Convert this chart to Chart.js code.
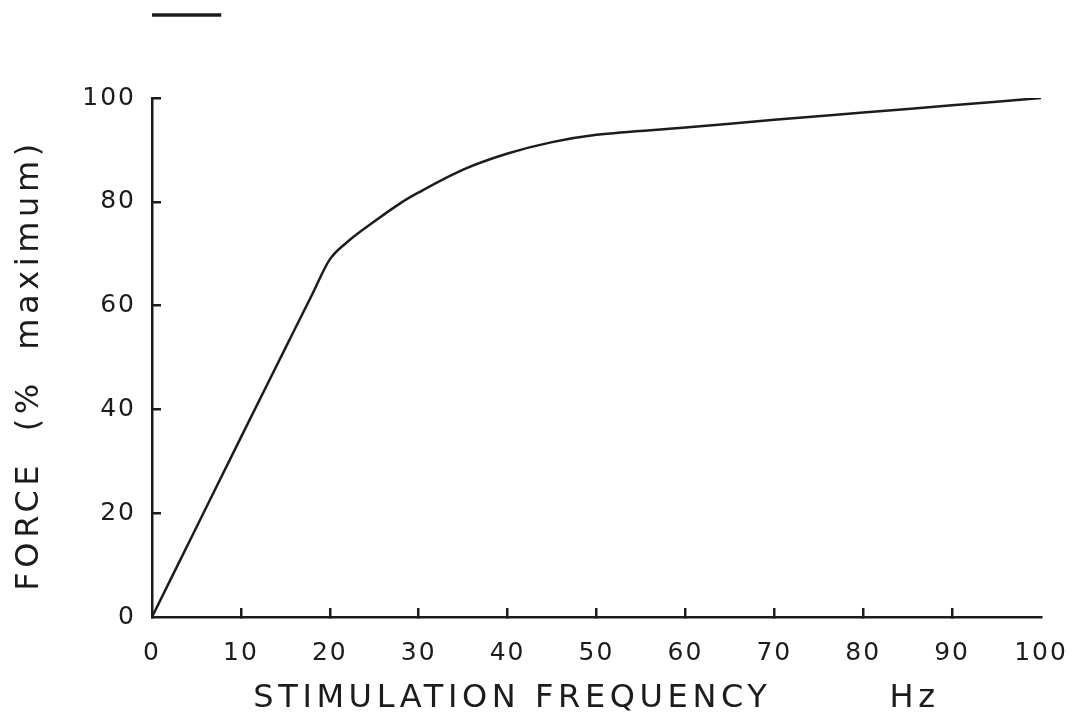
<!DOCTYPE html>
<html lang="en">
<head>
  <meta charset="UTF-8" />
  <title>Force vs stimulation frequency</title>
  <script src="https://cdn.jsdelivr.net/npm/chart.js"></script>
  <style>
    html, body { margin: 0; padding: 0; background: #fff; }
    #wrap { width: 1075px; height: 717px; }
  </style>
</head>
<body>
  <div id="wrap"><canvas id="forceChart"></canvas></div>

  <script>
    // stimulation frequency (Hz) and force (% of maximum)
    const freqHz = [0, 5, 10, 15, 18, 20, 22, 25, 28, 30, 35, 40, 45, 50, 60, 70, 80, 90, 100];
    const forcePct = [0, 17.3, 34.6, 51.8, 62.1, 68.9, 72.3, 76.2, 79.8, 81.8, 86.2, 89.3, 91.5, 92.9, 94.3, 95.8, 97.2, 98.6, 100];

    const xTitle = "STIMULATION FREQUENCY        Hz";
    const yTitle = "FORCE  (%  maximum) ";

    const ink = "#1c1c1c";
    const fontFamily = "'DejaVu Sans', sans-serif";

    const points = freqHz.map((f, i) => ({ x: f, y: forcePct[i] }));

    // wide plotter-style lettering: titles spaced more than tick numbers
    const spacing = {
      id: "spacing",
      beforeDraw(chart) { chart.ctx.letterSpacing = "4.6px"; },
      afterDatasetsDraw(chart) { chart.ctx.letterSpacing = "2px"; },
      afterDraw(chart) { chart.ctx.letterSpacing = "0px"; }
    };

    // keep the stray legend stroke up at the top of the page
    const liftLegend = {
      id: "liftLegend",
      afterLayout(chart) {
        const lg = chart.legend;
        const h = lg.bottom - lg.top;
        lg.top = 9;
        lg.bottom = 9 + h;
      }
    };

    new Chart(document.getElementById("forceChart"), {
      type: "line",
      data: {
        datasets: [{
          label: "",
          data: points,
          borderColor: ink,
          backgroundColor: ink,
          borderWidth: 2.5,
          pointRadius: 0,
          cubicInterpolationMode: "monotone"
        }]
      },
      options: {
        responsive: true,
        maintainAspectRatio: false,
        animation: false,
        layout: { padding: { top: 76, right: 0, left: 0, bottom: 0 } },
        plugins: {
          legend: {
            display: true,
            fullSize: false,
            align: "start",
            labels: { boxWidth: 68, boxHeight: 1, padding: 0, font: { size: 12 } }
          },
          tooltip: { enabled: false }
        },
        scales: {
          x: {
            type: "linear",
            min: 0,
            max: 100,
            afterFit: (s) => { s.height = 100; s.paddingRight = 34; },
            border: { display: true, color: ink, width: 2.5 },
            grid: {
              drawOnChartArea: false,
              tickLength: -9,
              lineWidth: 2.5,
              color: (c) => (c.tick && (c.tick.value === 0 || c.tick.value === 100)) ? "rgba(0,0,0,0)" : ink
            },
            ticks: {
              z: 1,
              stepSize: 10,
              padding: 30,
              color: ink,
              font: { family: fontFamily, size: 25 }
            },
            title: {
              display: true,
              text: xTitle,
              color: ink,
              font: { family: fontFamily, size: 32, lineHeight: 1 },
              padding: { top: 0, bottom: 2 }
            }
          },
          y: {
            min: 0,
            max: 100,
            afterFit: (s) => { s.width = 152; },
            border: { display: true, color: ink, width: 2.5 },
            grid: {
              drawOnChartArea: false,
              tickLength: -9,
              lineWidth: 2.5,
              color: (c) => (c.tick && c.tick.value === 0) ? "rgba(0,0,0,0)" : ink
            },
            ticks: {
              z: 1,
              stepSize: 20,
              padding: 25,
              color: ink,
              font: { family: fontFamily, size: 25 }
            },
            title: {
              display: true,
              text: yTitle,
              color: ink,
              font: { family: fontFamily, size: 32, lineHeight: 1 },
              padding: { top: 14, bottom: 0 }
            }
          }
        }
      },
      plugins: [spacing, liftLegend]
    });
  </script>
</body>
</html>
